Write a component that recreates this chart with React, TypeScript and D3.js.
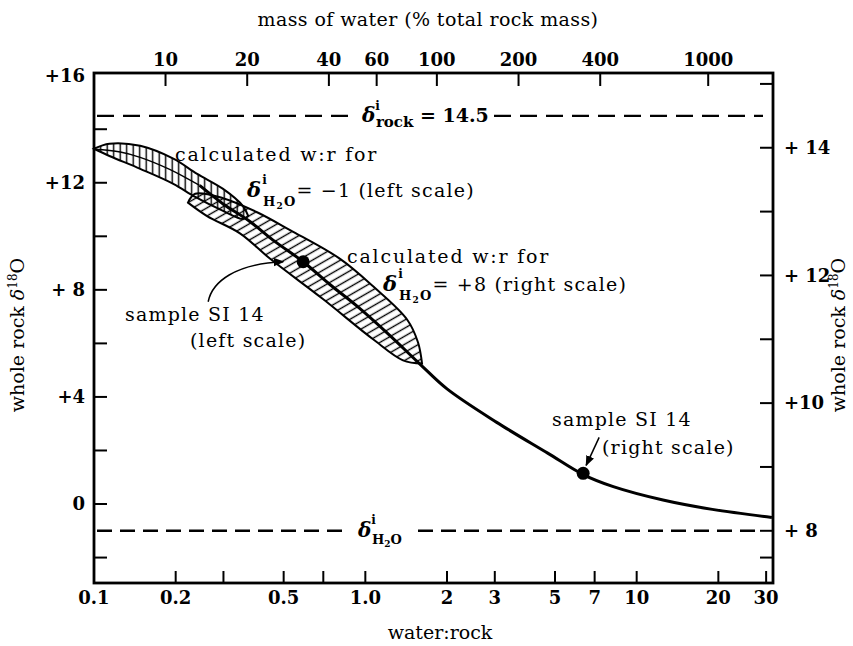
import React from "react";
import * as d3 from "d3";

const W = 853;
const H = 646;
const FONT = "'DejaVu Serif', serif";

// calculated w:r curve, read on the left scale (delta i H2O = -1)
const wrCurve = [0.1, 0.125, 0.148, 0.19, 0.245, 0.3, 0.37, 0.465, 0.59, 0.74, 0.93, 1.23, 1.6, 2.0, 3.05, 4.7, 6.35, 8.2, 12.5, 19, 31.5];
const d18OCurve = [13.25, 13.15, 12.95, 12.5, 11.9, 11.2, 10.6, 9.8, 9.05, 8.2, 7.4, 6.3, 5.2, 4.3, 3.05, 1.9, 1.1, 0.65, 0.15, -0.2, -0.5];

// envelope for delta i H2O = -1 (left scale)
const env1WrUpper = [0.1, 0.114, 0.148, 0.196, 0.24, 0.299, 0.354, 0.37];
const env1DUpper = [13.27, 13.46, 13.38, 12.9, 12.33, 11.77, 11.13, 10.76];
const env1WrLower = [0.1, 0.114, 0.148, 0.196, 0.236, 0.299, 0.354, 0.37];
const env1DLower = [13.27, 13.0, 12.52, 11.96, 11.47, 10.95, 10.65, 10.76];

// envelope for delta i H2O = +8 (right scale)
const env2WrUpper = [0.222, 0.236, 0.299, 0.399, 0.528, 0.807, 1.068, 1.425, 1.564, 1.618];
const env2DUpper = [13.14, 13.28, 13.21, 12.99, 12.71, 12.26, 11.83, 11.31, 10.95, 10.62];
const env2WrLower = [0.222, 0.261, 0.345, 0.446, 0.698, 1.068, 1.377, 1.618];
const env2DLower = [13.14, 12.93, 12.66, 12.26, 11.63, 11.0, 10.67, 10.62];

// sample SI 14
const sampleWr = [0.59, 6.35];
const sampleD18O = [9.05, 8.9];
const sampleScale = ["left", "right"];

const rockInitial = 14.5;
const waterLeft = -1;
const waterRight = 8;
const massPerWR = 54.5; // % water mass per unit w:r

const bottomTicks = [0.2, 0.3, 0.5, 0.7, 1, 2, 3, 5, 7, 10, 20, 30];
const bottomLabelValues = [0.1, 0.2, 0.5, 1, 2, 3, 5, 7, 10, 20, 30];
const bottomLabels = ["0.1", "0.2", "0.5", "1.0", "2", "3", "5", "7", "10", "20", "30"];
const topTicks = [10, 20, 40, 60, 100, 200, 400, 1000];
const leftTicks = [14, 12, 10, 8, 6, 4, 2, 0, -2];
const leftLabelValues = [16, 12, 8, 4, 0];
const leftLabels = ["+16", "+12", "+ 8", "+4", "0"];
const rightTicks = [15, 14, 13, 12, 11, 10, 9, 8];
const rightLabelValues = [14, 12, 10, 8];
const rightLabels = ["+ 14", "+ 12", "+10", "+ 8"];

export default function App() {
  const x = d3.scaleLog().domain([0.1, 31.8]).range([94, 773]);
  const y = d3.scaleLinear().domain([-2.95, 16.1]).range([583, 73]);
  const toRight = (v: number) =>
    waterRight + ((v - waterLeft) * (rockInitial - waterRight)) / (rockInitial - waterLeft);
  const yR = d3.scaleLinear().domain(y.domain().map(toRight)).range(y.range());
  const xTop = d3.scaleLog().domain(x.domain().map((d) => d * massPerWR)).range(x.range());

  const [x0, x1] = x.range();
  const [yBot, yTop] = y.range();

  const smooth = d3.line<[number, number]>().curve(d3.curveCatmullRom.alpha(0.5));

  const envPath = (wu: number[], du: number[], wl: number[], dl: number[], ys: any) => {
    const up = smooth(wu.map((w, i) => [x(w), ys(du[i])]));
    const lo = smooth(wl.map((w, i) => [x(w), ys(dl[i])] as [number, number]).reverse());
    return up + (lo || "").replace(/^M/, "L") + "Z";
  };

  const curvePts = wrCurve.map((w, i) => [x(w), y(d18OCurve[i])] as [number, number]);
  const thinPts = curvePts.filter((_, i) => wrCurve[i] <= 0.245);
  const thickPts = curvePts.filter((_, i) => wrCurve[i] >= 0.245);

  const sx = sampleWr.map((w) => x(w));
  const sy = sampleD18O.map((d, i) => (sampleScale[i] === "left" ? y(d) : yR(d)));

  const yRock = y(rockInitial);
  const yWater = y(waterLeft);

  const tickW = 2;
  const tickLen = 13;

  return (
    <svg
      width={W}
      height={H}
      style={{ position: "absolute", left: 0, top: 0, background: "#fff" }}
      fontFamily={FONT}
    >
      <defs>
        <pattern id="hatchV" patternUnits="userSpaceOnUse" width="6.5" height="6.5">
          <line x1="3.2" y1="0" x2="3.2" y2="6.5" stroke="#000" strokeWidth="1.4" />
        </pattern>
        <pattern
          id="hatchD"
          patternUnits="userSpaceOnUse"
          width="7"
          height="7"
          patternTransform="rotate(-30)"
        >
          <line x1="0" y1="3.5" x2="7" y2="3.5" stroke="#000" strokeWidth="1.4" />
        </pattern>
        <marker id="arrow" viewBox="0 0 10 10" refX="9" refY="5" markerWidth="7" markerHeight="7" orient="auto">
          <path d="M0,1 L10,5 L0,9 Z" fill="#000" />
        </marker>
      </defs>

      {/* envelopes */}
      <path
        d={envPath(env2WrUpper, env2DUpper, env2WrLower, env2DLower, yR)}
        fill="url(#hatchD)"
        stroke="#000"
        strokeWidth={2}
      />
      <path
        d={envPath(env1WrUpper, env1DUpper, env1WrLower, env1DLower, y)}
        fill="url(#hatchV)"
        stroke="#000"
        strokeWidth={2}
      />

      {/* calculated curve */}
      <path d={smooth(thinPts) || ""} fill="none" stroke="#000" strokeWidth={1.4} />
      <path d={smooth(thickPts) || ""} fill="none" stroke="#000" strokeWidth={3} />

      {/* samples */}
      {sx.map((cx, i) => (
        <circle key={i} cx={cx} cy={sy[i]} r={6.5} fill="#000" />
      ))}

      {/* initial values, dashed */}
      {[[x0 + 3, 354], [494, x1 - 10]].map(([a, b], i) => (
        <line key={"r" + i} x1={a} x2={b} y1={yRock} y2={yRock} stroke="#000" strokeWidth={2.4} strokeDasharray="17,9" />
      ))}
      {[[x0 + 3, 350], [418, x1 - 10]].map(([a, b], i) => (
        <line key={"w" + i} x1={a} x2={b} y1={yWater} y2={yWater} stroke="#000" strokeWidth={2.4} strokeDasharray="15,8" />
      ))}

      <text x={362} y={yRock + 6} fontSize={19} fontWeight="bold">
        <tspan fontStyle="italic" fontSize={20}>δ</tspan>
        <tspan dy={-12} fontSize={12}>i</tspan>
        <tspan dx={-4} dy={17} fontSize={15}>rock</tspan>
        <tspan dy={-5}> = 14.5</tspan>
      </text>
      <text x={358} y={yWater + 6} fontSize={20} fontWeight="bold">
        <tspan fontStyle="italic">δ</tspan>
        <tspan dy={-13} fontSize={12}>i</tspan>
        <tspan dx={-4} dy={20} fontSize={13}>H</tspan>
        <tspan dy={3} fontSize={9}>2</tspan>
        <tspan dy={-3} fontSize={13}>O</tspan>
      </text>

      {/* annotations */}
      <text x={175} y={161} fontSize={19} letterSpacing={1.8}>calculated w:r for</text>
      <text x={247} y={197} fontSize={19} letterSpacing={1.2}>
        <tspan fontStyle="italic" fontWeight="bold" fontSize={21}>δ</tspan>
        <tspan dy={-13} fontSize={12} fontWeight="bold">i</tspan>
        <tspan dx={-5} dy={22} fontSize={13} fontWeight="bold">H</tspan>
        <tspan dy={3} fontSize={9} fontWeight="bold">2</tspan>
        <tspan dy={-3} fontSize={13} fontWeight="bold">O</tspan>
        <tspan dy={-9}>= −1 (left scale)</tspan>
      </text>
      <text x={347} y={263} fontSize={19} letterSpacing={1.8}>calculated w:r for</text>
      <text x={383} y={291} fontSize={19} letterSpacing={1.2}>
        <tspan fontStyle="italic" fontWeight="bold" fontSize={21}>δ</tspan>
        <tspan dy={-13} fontSize={12} fontWeight="bold">i</tspan>
        <tspan dx={-5} dy={22} fontSize={13} fontWeight="bold">H</tspan>
        <tspan dy={3} fontSize={9} fontWeight="bold">2</tspan>
        <tspan dy={-3} fontSize={13} fontWeight="bold">O</tspan>
        <tspan dy={-9}>= +8 (right scale)</tspan>
      </text>

      <text x={125} y={321} fontSize={19} letterSpacing={1.2}>sample SI 14</text>
      <text x={190} y={347} fontSize={19} letterSpacing={1.2}>(left scale)</text>
      <path
        d={`M${sx[0] - 95},${sy[0] + 40} C${sx[0] - 91},${sy[0] + 20} ${sx[0] - 68},${sy[0] + 2} ${sx[0] - 20},${sy[0]}`}
        fill="none"
        stroke="#000"
        strokeWidth={1.5}
        markerEnd="url(#arrow)"
      />

      <text x={552} y={426} fontSize={19} letterSpacing={1.2}>sample SI 14</text>
      <text x={602} y={454} fontSize={19} letterSpacing={1.2}>(right scale)</text>
      <line
        x1={sx[1] + 16}
        y1={sy[1] - 36}
        x2={sx[1] + 3}
        y2={sy[1] - 8}
        stroke="#000"
        strokeWidth={1.5}
        markerEnd="url(#arrow)"
      />

      {/* frame */}
      <rect x={x0} y={yTop} width={x1 - x0} height={yBot - yTop} fill="none" stroke="#000" strokeWidth={2.8} />

      {/* bottom axis */}
      {bottomTicks.map((v) => (
        <line key={"bt" + v} x1={x(v)} x2={x(v)} y1={yBot} y2={yBot - 12} stroke="#000" strokeWidth={tickW} />
      ))}
      {bottomLabelValues.map((v, i) => (
        <text key={"bl" + v} x={x(v)} y={604} textAnchor="middle" fontSize={18} fontWeight="bold">
          {bottomLabels[i]}
        </text>
      ))}
      <text x={440} y={639} textAnchor="middle" fontSize={19}>water:rock</text>

      {/* top axis */}
      {topTicks.map((v) => (
        <line key={"tt" + v} x1={xTop(v)} x2={xTop(v)} y1={yTop} y2={yTop + tickLen} stroke="#000" strokeWidth={tickW} />
      ))}
      {topTicks.map((v) => (
        <text key={"tl" + v} x={xTop(v)} y={66} textAnchor="middle" fontSize={18} fontWeight="bold">
          {v}
        </text>
      ))}
      <text x={428} y={26} textAnchor="middle" fontSize={19} letterSpacing={0.4}>
        mass of water (% total rock mass)
      </text>

      {/* left axis */}
      {leftTicks.map((v) => (
        <line key={"lt" + v} x1={x0} x2={x0 + tickLen} y1={y(v)} y2={y(v)} stroke="#000" strokeWidth={tickW} />
      ))}
      {leftLabelValues.map((v, i) => (
        <text key={"ll" + v} x={85} y={y(v)} dy="0.35em" textAnchor="end" fontSize={18} fontWeight="bold">
          {leftLabels[i]}
        </text>
      ))}
      <text transform={`translate(24,335) rotate(-90)`} textAnchor="middle" fontSize={19}>
        whole rock <tspan fontStyle="italic">δ</tspan>
        <tspan dy={-7} fontSize={12}>18</tspan>
        <tspan dy={7}>O</tspan>
      </text>

      {/* right axis */}
      {rightTicks.map((v) => (
        <line key={"rt" + v} x1={x1 - tickLen} x2={x1} y1={yR(v)} y2={yR(v)} stroke="#000" strokeWidth={tickW} />
      ))}
      <line x1={x1 - tickLen} x2={x1} y1={y(-2)} y2={y(-2)} stroke="#000" strokeWidth={tickW} />
      {rightLabelValues.map((v, i) => (
        <text key={"rl" + v} x={784} y={yR(v)} dy="0.35em" textAnchor="start" fontSize={18} fontWeight="bold">
          {rightLabels[i]}
        </text>
      ))}
      <text transform={`translate(845,335) rotate(-90)`} textAnchor="middle" fontSize={19}>
        whole rock <tspan fontStyle="italic">δ</tspan>
        <tspan dy={-7} fontSize={12}>18</tspan>
        <tspan dy={7}>O</tspan>
      </text>
    </svg>
  );
}
